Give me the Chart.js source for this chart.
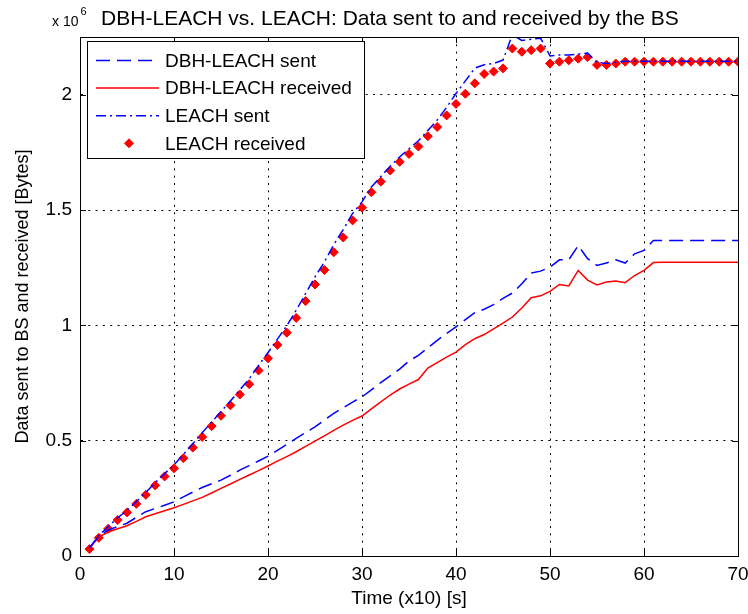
<!DOCTYPE html>
<html>
<head>
<meta charset="utf-8">
<script src="https://cdn.jsdelivr.net/npm/chart.js@4/dist/chart.umd.min.js"></script>
<style>
  html, body { margin: 0; padding: 0; background: #fff; }
  #wrap { width: 748px; height: 614px; }
</style>
</head>
<body>
<div id="wrap"><canvas id="c" width="748" height="614"></canvas></div>
<script>
const titleText = 'DBH-LEACH vs. LEACH: Data sent to and received by the BS';
const xAxisTitle = 'Time (x10) [s]';
const yAxisTitle = 'Data sent to BS and received [Bytes]';
const exponentBase = 'x 10';
const exponentPower = '6';

const time = [1,2,3,4,5,6,7,8,9,10,11,12,13,14,15,16,17,18,19,20,
  21,22,23,24,25,26,27,28,29,30,31,32,33,34,35,36,37,38,39,40,
  41,42,43,44,45,46,47,48,49,50,51,52,53,54,55,56,57,58,59,60,
  61,62,63,64,65,66,67,68,69,70];

const xTicks = [0,10,20,30,40,50,60,70];
const yTicks = [0,0.5,1,1.5,2];
const yTickLabels = ['0','0.5','1','1.5','2'];

// values in units of 10^6 bytes
const dbhSent = [0.035,0.085,0.113,0.128,0.142,0.168,0.192,0.206,0.220,0.235,
  0.256,0.277,0.297,0.313,0.329,0.350,0.372,0.392,0.412,0.433,
  0.458,0.484,0.510,0.535,0.560,0.589,0.618,0.643,0.667,0.690,
  0.720,0.752,0.781,0.810,0.845,0.870,0.902,0.935,0.965,0.993,
  1.025,1.055,1.070,1.090,1.117,1.140,1.180,1.227,1.235,1.252,
  1.284,1.284,1.346,1.289,1.260,1.270,1.284,1.270,1.310,1.325,
  1.368,1.368,1.368,1.368,1.368,1.368,1.368,1.368,1.368,1.368];

const dbhReceived = [0.033,0.082,0.104,0.118,0.131,0.150,0.170,0.183,0.196,0.209,
  0.224,0.239,0.254,0.273,0.293,0.312,0.332,0.351,0.370,0.390,
  0.411,0.431,0.452,0.475,0.498,0.521,0.545,0.567,0.588,0.607,
  0.638,0.668,0.698,0.724,0.745,0.765,0.815,0.838,0.862,0.884,
  0.916,0.942,0.960,0.985,1.010,1.036,1.075,1.120,1.128,1.147,
  1.177,1.171,1.238,1.196,1.175,1.188,1.192,1.185,1.216,1.238,
  1.272,1.274,1.274,1.274,1.274,1.274,1.274,1.274,1.274,1.274];

const leachSent = [0.035,0.088,0.128,0.165,0.198,0.236,0.276,0.318,0.357,0.395,
  0.440,0.487,0.534,0.581,0.626,0.672,0.720,0.768,0.826,0.882,
  0.940,0.998,1.065,1.138,1.210,1.275,1.350,1.415,1.485,1.535,
  1.600,1.645,1.690,1.730,1.765,1.800,1.845,1.890,1.945,2.005,
  2.060,2.115,2.130,2.135,2.150,2.260,2.235,2.240,2.245,2.168,
  2.172,2.172,2.176,2.180,2.140,2.135,2.140,2.145,2.145,2.145,
  2.145,2.145,2.145,2.145,2.145,2.145,2.145,2.145,2.145,2.145];

const leachReceived = [0.030,0.079,0.118,0.156,0.189,0.226,0.265,0.306,0.345,0.380,
  0.424,0.470,0.516,0.563,0.608,0.653,0.700,0.745,0.804,0.857,
  0.915,0.968,1.032,1.105,1.177,1.240,1.317,1.381,1.455,1.510,
  1.577,1.623,1.671,1.709,1.743,1.775,1.820,1.860,1.910,1.960,
  2.004,2.049,2.090,2.100,2.114,2.200,2.186,2.193,2.200,2.135,
  2.143,2.149,2.156,2.163,2.129,2.129,2.135,2.143,2.143,2.143,
  2.143,2.143,2.143,2.143,2.143,2.143,2.143,2.143,2.143,2.143];

const FONT = '"Liberation Sans", Arial, Helvetica, sans-serif';
const toPts = arr => arr.map((v, i) => ({x: time[i], y: v}));

const bgPlugin = {
  id: 'bg',
  beforeDraw(chart) {
    const ctx = chart.ctx;
    ctx.save();
    ctx.fillStyle = '#fff';
    ctx.fillRect(0, 0, chart.width, chart.height);
    ctx.restore();
  }
};

const framePlugin = {
  id: 'frame',
  afterDatasetsDraw(chart) {
    const {ctx, chartArea: a, scales} = chart;
    ctx.save();
    ctx.strokeStyle = '#000';
    ctx.lineWidth = 1;
    ctx.setLineDash([]);
    ctx.strokeRect(Math.round(a.left) + 0.5, Math.round(a.top) + 0.5,
      Math.round(a.right - a.left), Math.round(a.bottom - a.top));
    const tl = 6;
    ctx.beginPath();
    xTicks.forEach(v => {
      const px = Math.round(scales.x.getPixelForValue(v)) + 0.5;
      ctx.moveTo(px, a.bottom); ctx.lineTo(px, a.bottom - tl);
      ctx.moveTo(px, a.top); ctx.lineTo(px, a.top + tl);
    });
    yTicks.forEach(v => {
      const py = Math.round(scales.y.getPixelForValue(v)) + 0.5;
      ctx.moveTo(a.left, py); ctx.lineTo(a.left + tl, py);
      ctx.moveTo(a.right, py); ctx.lineTo(a.right - tl, py);
    });
    ctx.stroke();
    ctx.restore();
  }
};

const legendPlugin = {
  id: 'matlabLegend',
  afterDatasetsDraw(chart) {
    const {ctx, chartArea: a} = chart;
    const bx = a.left + 7, by = a.top + 4, bw = 277, bh = 117;
    ctx.save();
    ctx.fillStyle = '#fff';
    ctx.fillRect(bx, by, bw, bh);
    ctx.strokeStyle = '#000';
    ctx.lineWidth = 1;
    ctx.strokeRect(bx + 0.5, by + 0.5, bw, bh);
    chart.data.datasets.forEach((ds, i) => {
      const y = by + 19.5 + i * 27.6;
      if (ds.showLine === false) {
        ctx.fillStyle = ds.pointBackgroundColor;
        ctx.strokeStyle = ds.pointBorderColor;
        ctx.lineWidth = 1;
        ctx.beginPath();
        const r = ds.pointRadius;
        ctx.moveTo(bx + 42, y - r); ctx.lineTo(bx + 42 + r, y);
        ctx.lineTo(bx + 42, y + r); ctx.lineTo(bx + 42 - r, y);
        ctx.closePath(); ctx.fill(); ctx.stroke();
      } else {
        ctx.strokeStyle = ds.borderColor;
        ctx.lineWidth = ds.borderWidth;
        ctx.setLineDash(ds.borderDash || []);
        ctx.beginPath();
        ctx.moveTo(bx + 9, y); ctx.lineTo(bx + 72, y);
        ctx.stroke();
        ctx.setLineDash([]);
      }
      ctx.fillStyle = '#000';
      ctx.font = '19px ' + FONT;
      ctx.textBaseline = 'middle';
      ctx.textAlign = 'left';
      ctx.fillText(ds.label, bx + 78, y + 1);
    });
    ctx.restore();
  }
};

const titlePlugin = {
  id: 'matlabTitle',
  afterDraw(chart) {
    const ctx = chart.ctx;
    ctx.save();
    ctx.fillStyle = '#000';
    ctx.textBaseline = 'alphabetic';
    ctx.font = '21px ' + FONT;
    ctx.textAlign = 'center';
    ctx.fillText(titleText, 390, 25);
    ctx.textAlign = 'left';
    ctx.font = '14px ' + FONT;
    ctx.fillText(exponentBase, 52, 26);
    const w = ctx.measureText(exponentBase).width;
    ctx.font = '11px ' + FONT;
    ctx.fillText(exponentPower, 52 + w + 2, 15);
    ctx.restore();
  }
};

const gridColor = (edges) => (c) => (c.tick && edges.includes(c.tick.value)) ? 'rgba(0,0,0,0)' : '#000';

new Chart(document.getElementById('c'), {
  type: 'line',
  data: {
    datasets: [
      {
        label: 'DBH-LEACH sent',
        data: toPts(dbhSent),
        borderColor: '#0000ff',
        backgroundColor: '#0000ff',
        borderWidth: 1.5,
        borderDash: [14, 7],
        pointRadius: 0,
        tension: 0,
        fill: false
      },
      {
        label: 'DBH-LEACH received',
        data: toPts(dbhReceived),
        borderColor: '#ff0000',
        backgroundColor: '#ff0000',
        borderWidth: 1.5,
        pointRadius: 0,
        tension: 0,
        fill: false
      },
      {
        label: 'LEACH sent',
        data: toPts(leachSent),
        borderColor: '#0000ff',
        backgroundColor: '#0000ff',
        borderWidth: 1.5,
        borderDash: [10, 4, 2, 4],
        pointRadius: 0,
        tension: 0,
        fill: false
      },
      {
        label: 'LEACH received',
        data: toPts(leachReceived),
        showLine: false,
        borderColor: '#ff0000',
        backgroundColor: '#ff0000',
        pointStyle: 'rectRot',
        pointRadius: 4.5,
        pointBackgroundColor: '#ff0000',
        pointBorderColor: '#ff0000',
        pointBorderWidth: 1,
        fill: false
      }
    ]
  },
  options: {
    responsive: false,
    devicePixelRatio: 1,
    animation: false,
    layout: { padding: { top: 37, right: 10, left: 0, bottom: 0 } },
    plugins: {
      legend: { display: false },
      title: { display: false },
      tooltip: { enabled: false }
    },
    scales: {
      x: {
        type: 'linear',
        min: 0, max: 70,
        afterFit: s => { s.height = 58; s.paddingLeft = 0; s.paddingRight = 0; },
        afterBuildTicks: s => { s.ticks = xTicks.map(v => ({value: v})); },
        ticks: {
          color: '#000',
          font: { family: FONT, size: 19 },
          padding: 7,
          maxRotation: 0,
          autoSkip: false,
          callback: v => String(v)
        },
        grid: {
          drawTicks: false,
          color: gridColor([0, 70]),
          lineWidth: 1
        },
        border: { display: true, color: '#000', width: 1, dash: [2, 5.3] },
        title: {
          display: true,
          text: xAxisTitle,
          color: '#000',
          font: { family: FONT, size: 19 },
          padding: { top: 4, bottom: 4 }
        }
      },
      y: {
        type: 'linear',
        min: 0, max: 2.25,
        afterFit: s => { s.width = 80; s.paddingTop = 0; s.paddingBottom = 0; },
        afterBuildTicks: s => { s.ticks = yTicks.map(v => ({value: v})); },
        ticks: {
          color: '#000',
          font: { family: FONT, size: 19 },
          padding: 8,
          autoSkip: false,
          callback: (v) => yTickLabels[yTicks.indexOf(v)] ?? String(v)
        },
        grid: {
          drawTicks: false,
          color: gridColor([0]),
          lineWidth: 1
        },
        border: { display: true, color: '#000', width: 1, dash: [2, 5.3] },
        title: {
          display: true,
          text: yAxisTitle,
          color: '#000',
          font: { family: FONT, size: 18 },
          padding: { top: 12, bottom: 0 }
        }
      }
    }
  },
  plugins: [bgPlugin, framePlugin, legendPlugin, titlePlugin]
});
</script>
</body>
</html>
